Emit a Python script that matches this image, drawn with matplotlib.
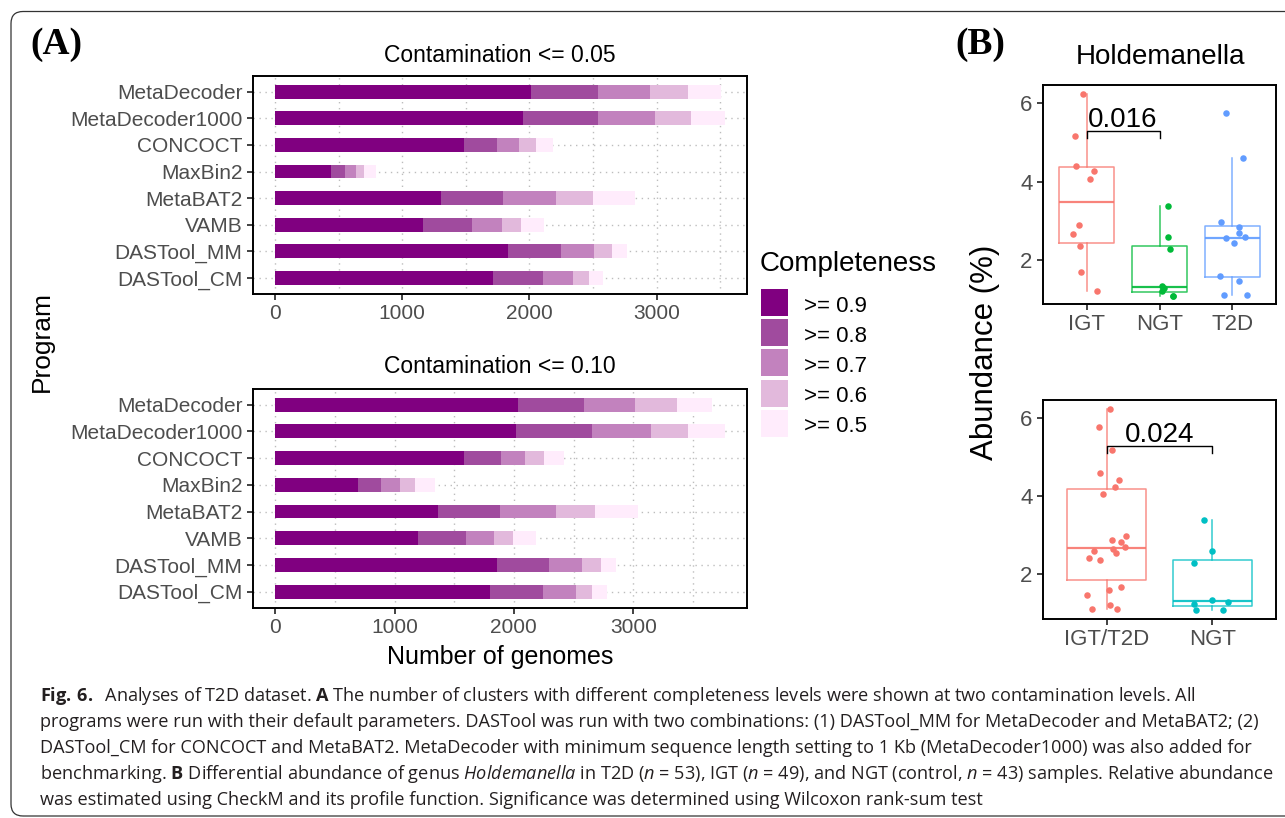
import numpy as np
import matplotlib.pyplot as plt
from matplotlib.patches import Rectangle, FancyBboxPatch
from matplotlib.transforms import IdentityTransform

# ---- data (A): cumulative number of genomes per completeness level ----
programs = ["MetaDecoder", "MetaDecoder1000", "CONCOCT", "MaxBin2",
            "MetaBAT2", "VAMB", "DASTool_MM", "DASTool_CM"]
levels = [">= 0.9", ">= 0.8", ">= 0.7", ">= 0.6", ">= 0.5"]

cont005 = np.array([
    [2015, 2540, 2948, 3245, 3504],
    [1952, 2540, 2987, 3269, 3535],
    [1489, 1748, 1921, 2054, 2187],
    [439, 549, 635, 698, 792],
    [1301, 1795, 2211, 2501, 2830],
    [1160, 1552, 1787, 1936, 2117],
    [1834, 2250, 2508, 2650, 2767],
    [1717, 2109, 2344, 2469, 2579],
])
cont010 = np.array([
    [2037, 2588, 3014, 3365, 3657],
    [2020, 2655, 3148, 3457, 3765],
    [1578, 1895, 2096, 2254, 2421],
    [693, 885, 1044, 1169, 1336],
    [1361, 1887, 2354, 2680, 3039],
    [1194, 1595, 1837, 1995, 2187],
    [1862, 2296, 2571, 2730, 2855],
    [1803, 2246, 2521, 2655, 2780],
])

# ---- data (B): Holdemanella abundance (%) and jitter offsets ----
igt = [6.24, 5.17, 4.40, 4.26, 4.06, 2.89, 2.66, 2.37, 1.69, 1.22]
igt_jit = [-0.05, -0.16, -0.14, 0.10, 0.04, -0.10, -0.19, -0.09, -0.08, 0.14]
ngt = [3.39, 2.60, 2.28, 1.34, 1.28, 1.22, 1.09, 1.08]
ngt_jit = [0.12, 0.11, 0.14, 0.03, 0.06, 0.04, 0.18, 0.18]
t2d = [5.76, 4.60, 2.97, 2.84, 2.70, 2.60, 2.55, 2.43, 1.60, 1.47, 1.11, 1.10]
t2d_jit = [-0.09, 0.14, -0.16, 0.09, 0.09, 0.18, -0.08, 0.02, -0.17, 0.09, -0.11, 0.20]

igt_t2d = [6.24, 5.77, 5.19, 4.60, 4.41, 4.24, 4.06, 2.97, 2.87, 2.82, 2.68,
           2.64, 2.59, 2.55, 2.42, 2.36, 1.67, 1.59, 1.46, 1.19, 1.09, 1.09]
igt_t2d_jit = [0.03, -0.07, 0.05, -0.06, 0.12, 0.08, -0.03, 0.18, 0.05, 0.14, 0.17,
               0.06, -0.12, 0.09, -0.17, -0.06, 0.14, 0.02, -0.18, 0.03, -0.14, 0.10]
ngt2 = [3.39, 2.59, 2.27, 1.34, 1.27, 1.22, 1.08, 1.08]
ngt2_jit = [-0.08, 0.0, -0.17, 0.0, 0.15, -0.17, -0.16, 0.10]

pvals = ["0.016", "0.024"]

caption = [
    r"$\mathbf{Fig.\,6.}$  Analyses of T2D dataset. $\mathbf{A}$ The number of clusters with different completeness levels were shown at two contamination levels. All",
    r"programs were run with their default parameters. DASTool was run with two combinations: (1) DASTool_MM for MetaDecoder and MetaBAT2; (2)",
    r"DASTool_CM for CONCOCT and MetaBAT2. MetaDecoder with minimum sequence length setting to 1 Kb (MetaDecoder1000) was also added for",
    r"benchmarking. $\mathbf{B}$ Differential abundance of genus $\mathit{Holdemanella}$ in T2D ($\mathit{n}$ = 53), IGT ($\mathit{n}$ = 49), and NGT (control, $\mathit{n}$ = 43) samples. Relative abundance",
    r"was estimated using CheckM and its profile function. Significance was determined using Wilcoxon rank-sum test",
]

bar_colors = ["#800080", "#A04B9E", "#C282BE", "#E2B9DC", "#FFECFC"]

plt.rcParams['font.family'] = ['Liberation Sans', 'DejaVu Sans']
plt.rcParams['mathtext.fontset'] = 'custom'
plt.rcParams['mathtext.rm'] = 'Open Sans'
plt.rcParams['mathtext.it'] = 'Open Sans:italic'
plt.rcParams['mathtext.bf'] = 'Open Sans:bold'

W, H = 1285, 818
fig = plt.figure(figsize=(W / 100, H / 100), dpi=100)


def fx(px):
    return px / W


def fy(py):
    return 1 - py / H


def pix_axes(left, top, right, bottom):
    return fig.add_axes([fx(left), fy(bottom), (right - left) / W, (bottom - top) / H])


def style_axes(ax):
    for s in ax.spines.values():
        s.set_linewidth(1.4)
        s.set_color("black")
    ax.tick_params(length=4, width=1.3, color="#333333", labelcolor="#4D4D4D", labelsize=15)


def bar_panel(ax, data):
    y = np.arange(len(programs))
    # darkest level is drawn last so it sits on top
    for j in range(len(levels) - 1, -1, -1):
        ax.barh(y, data[:, j], height=0.52, color=bar_colors[j], zorder=2)
    ax.set_yticks(y, programs)
    ax.set_ylim(len(programs) - 0.4, -0.6)
    xmax = data.max()
    ax.set_xlim(-0.05 * xmax, 1.05 * xmax)
    ax.set_xticks([0, 1000, 2000, 3000])
    ax.set_xticks([500, 1500, 2500, 3500], minor=True)
    ax.grid(True, which="both", linestyle=(0, (1, 3.3)), color="#bdbdbd", linewidth=1, zorder=0)
    ax.set_axisbelow(True)
    style_axes(ax)
    ax.tick_params(axis="x", which="minor", length=0)


ax1 = pix_axes(252.7, 75.7, 747, 294)
bar_panel(ax1, cont005)
ax2 = pix_axes(252.7, 388.7, 747, 607.7)
bar_panel(ax2, cont010)


def box_panel(ax, groups, values, jitters, colors, pval):
    pos = np.arange(1, len(groups) + 1)
    bp = ax.boxplot(values, positions=pos, widths=0.75, showfliers=False,
                    showcaps=False, whis=1.5)
    for i, c in enumerate(colors):
        bp["boxes"][i].set(color=c, linewidth=1.1, alpha=0.8)
        bp["medians"][i].set(color=c, linewidth=1.6, alpha=0.9)
        bp["whiskers"][2 * i].set(color=c, linewidth=1.1, alpha=0.8)
        bp["whiskers"][2 * i + 1].set(color=c, linewidth=1.1, alpha=0.8)
        ax.scatter(pos[i] + np.array(jitters[i]), values[i], s=22, color=c,
                   linewidths=0, zorder=3)
    ax.plot([1, 1, 2, 2], [5.11, 5.28, 5.28, 5.11], color="black", linewidth=1)
    ax.text(1.5, 5.58, pval, ha="center", va="center", fontsize=20, color="black")
    ax.set_xticks(pos, groups)
    ax.set_yticks([2, 4, 6])
    ax.set_xlim(0.4, len(groups) + 0.6)
    style_axes(ax)
    ax.tick_params(labelsize=16)


ax3 = pix_axes(1043, 84.7, 1276, 304)
box_panel(ax3, ["IGT", "NGT", "T2D"], [igt, ngt, t2d], [igt_jit, ngt_jit, t2d_jit],
          ["#F8766D", "#00BA38", "#619CFF"], pvals[0])
ax3.set_ylim(0.88, 6.47)

ax4 = pix_axes(1043, 399.7, 1276, 619)
box_panel(ax4, ["IGT/T2D", "NGT"], [igt_t2d, ngt2], [igt_t2d_jit, ngt2_jit],
          ["#F8766D", "#00BFC4"], pvals[1])
ax4.set_ylim(0.84, 6.48)

# ---- labels ----
fig.text(fx(56), fy(45), "(A)", family="Liberation Serif", weight="bold", fontsize=27,
         ha="center", va="center")
fig.text(fx(980), fy(45), "(B)", family="Liberation Serif", weight="bold", fontsize=27,
         ha="center", va="center")
fig.text(fx(500), fy(55), "Contamination <= 0.05", fontsize=16.5, ha="center", va="center")
fig.text(fx(500), fy(367), "Contamination <= 0.10", fontsize=16.5, ha="center", va="center")
fig.text(fx(42), fy(342), "Program", fontsize=19, rotation=90, ha="center", va="center")
fig.text(fx(500), fy(657), "Number of genomes", fontsize=18, ha="center", va="center")
fig.text(fx(1160), fy(57), "Holdemanella", fontsize=20, ha="center", va="center")
fig.text(fx(985), fy(352), "Abundance (%)", fontsize=22.5, rotation=90, ha="center", va="center")

# ---- legend, laid out by hand like the ggplot guide ----
fig.text(fx(760), fy(270.7), "Completeness", fontsize=20, ha="left", va="baseline")
for i, (c, lab) in enumerate(zip(bar_colors, levels)):
    top = 289 + 30.2 * i
    fig.add_artist(Rectangle((fx(761), fy(top + 27)), 27 / W, 27 / H,
                             transform=fig.transFigure, facecolor=c, edgecolor="none"))
    fig.text(fx(804), fy(top + 22.7), lab, fontsize=16, ha="left", va="baseline")

# ---- caption ----
cap_texts = []
for i, line in enumerate(caption):
    t = fig.text(fx(40), fy(701 + 26 * i), line, fontsize=13, family="Open Sans",
                 color="#231f20", ha="left", va="baseline")
    cap_texts.append(t)
renderer = fig.canvas.get_renderer()
w = cap_texts[3].get_window_extent(renderer).width
size = 13 * 1235 / w
for t in cap_texts:
    t.set_fontsize(size)

frame = FancyBboxPatch((11, 2), 1300, 804.5, boxstyle="round,pad=0,rounding_size=12",
                       transform=IdentityTransform(), fill=False, edgecolor="#333333",
                       linewidth=0.9)
fig.add_artist(frame)

fig.savefig("out.png", dpi=100)
